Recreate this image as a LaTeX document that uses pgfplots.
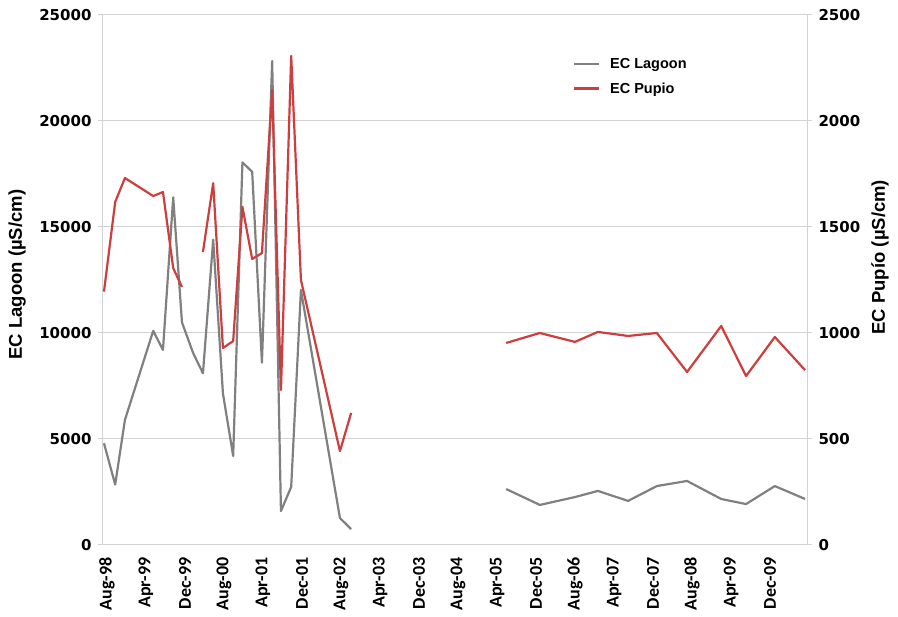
\documentclass[border=0pt]{standalone}
\usepackage{fontspec}
\setmainfont{Liberation Sans}
\newfontfamily\tickfont{DejaVu Sans}
\newfontfamily\xfont{Carlito}
\usepackage{pgfplots}
\pgfplotsset{compat=1.18}
\definecolor{lag}{RGB}{128,128,128}
\definecolor{pup}{RGB}{205,62,62}
\definecolor{gridc}{RGB}{210,210,210}
\begin{document}
\begin{tikzpicture}
\pgfplotsset{
  every axis/.append style={
    scale only axis, width=704pt, height=530pt,
    xmin=0, xmax=144.4, at={(0,0)}, anchor=south west,
    axis line style={gridc, line width=1pt},
    scaled y ticks=false,
    /pgf/number format/1000 sep={},
    /pgf/number format/assume math mode=true,
    yticklabel style={font=\tickfont\bfseries\fontsize{15}{15}\selectfont, text=black},
    ytick style={gridc, line width=1pt},
    major tick length=5pt,
    tick align=outside,
    unbounded coords=jump,
    clip=false,
  },
}
\begin{axis}[
  ymin=0, ymax=25000, ytick={0,5000,...,25000},
  axis y line*=left,
  axis x line*=bottom,
  ymajorgrids, grid style={gridc, line width=1pt},
  xtick={0,8,...,136},
  xticklabels={Aug-98,Apr-99,Dec-99,Aug-00,Apr-01,Dec-01,Aug-02,Apr-03,Dec-03,Aug-04,Apr-05,Dec-05,Aug-06,Apr-07,Dec-07,Aug-08,Apr-09,Dec-09},
  xtick style={draw=none},
  xticklabel style={xshift=4pt, yshift=-4pt, rotate=90, anchor=east, font=\xfont\bfseries\fontsize{18}{18}\selectfont},
  yticklabel style={xshift=-3pt},
  ylabel={EC Lagoon (µS/cm)},
  ylabel style={at={(axis description cs:-0.122,0.51)}, anchor=center, font=\bfseries\fontsize{18.5}{18.5}\selectfont},
]
\addplot[lag, line width=2.2pt, line join=round] coordinates {
(0.2,4800) (2.5,2850) (4.5,5900) (10.3,10100) (12.3,9200) (14.4,16400) (16.2,10500) (18.5,9050) (20.5,8100) (22.6,14400) (24.6,7150) (26.7,4200) (28.6,18050) (30.6,17600) (32.6,8600) (34.7,22830) (36.5,1600) (38.6,2740) (40.6,12030) (48.6,1270) (50.9,750)
(60,nan)
(82.7,2640) (89.6,1890) (96.8,2260) (101.5,2550) (107.7,2080) (113.6,2780) (119.8,3020) (126.8,2170) (131.9,1930) (137.8,2780) (144.0,2170)
};
\end{axis}
\begin{axis}[
  ymin=0, ymax=2500, ytick={0,500,...,2500},
  axis y line*=right,
  axis x line=none,
  yticklabel style={xshift=3pt},
  ylabel={EC Pupío (µS/cm)},
  ylabel style={at={(axis description cs:1.1037,0.543)}, anchor=center, font=\bfseries\fontsize{18.5}{18.5}\selectfont},
  legend style={at={(axis description cs:0.663,0.927)}, anchor=north west, draw=none, fill=none,
    font=\bfseries\fontsize{14.5}{14.5}\selectfont, row sep=9pt,
    /tikz/every odd column/.append style={column sep=0pt},
    /tikz/every even column/.append style={column sep=0pt},
    nodes={inner xsep=10pt}},
  legend cell align=left,
  legend image code/.code={\draw[#1] (0pt,0pt) -- (25pt,0pt);},
]
\addlegendimage{lag, line width=2.2pt}
\addlegendentry{EC Lagoon}
\addplot[pup, line width=2.2pt, line join=round] coordinates {
(0.2,1195) (2.5,1618) (4.5,1731) (10.3,1646) (12.3,1665) (14.4,1306) (16.2,1217)
(18,nan)
(20.5,1382) (22.6,1707) (24.6,929) (26.7,962) (28.6,1595) (30.6,1349) (32.6,1377) (34.7,2146) (36.5,731) (38.6,2307) (40.6,1250) (48.6,443) (50.9,623)
(60,nan)
(82.7,953) (89.6,1000) (96.8,958) (101.5,1005) (107.7,986) (113.6,1000) (119.8,816) (126.8,1033) (131.9,797) (137.8,981) (144.0,825)
};
\addlegendentry{EC Pupio}
\end{axis}
\pgfresetboundingbox
\path (-103pt,-72pt) rectangle (795pt,545pt);
\end{tikzpicture}
\end{document}
